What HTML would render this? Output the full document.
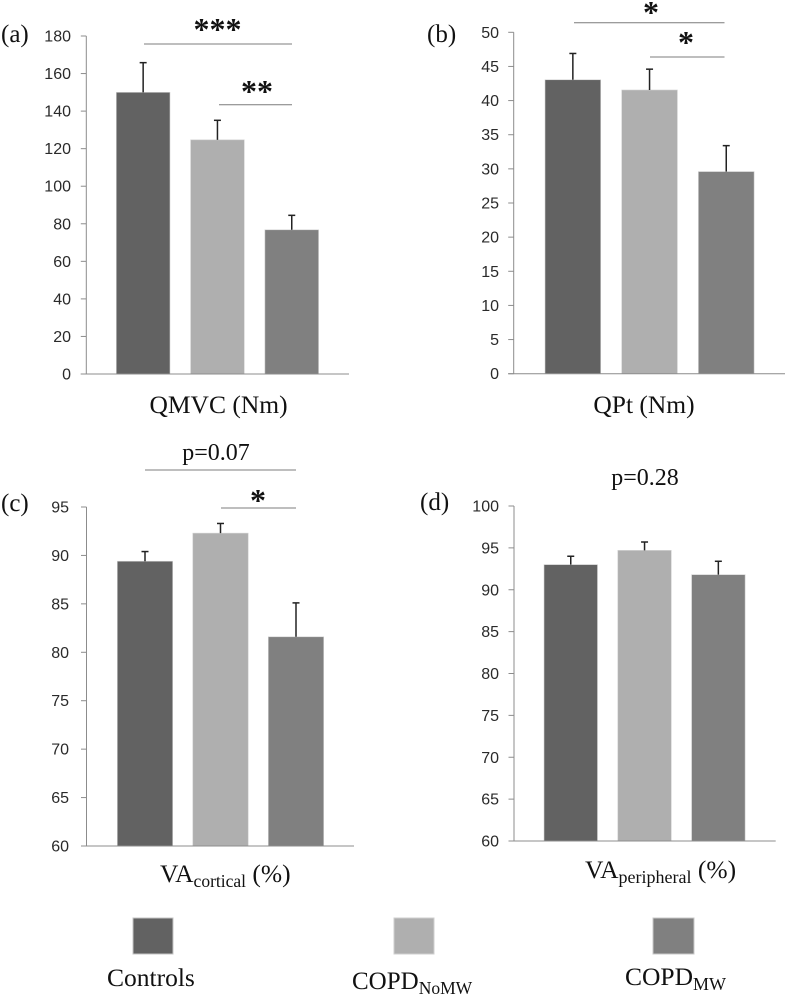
<!DOCTYPE html>
<html lang="en">
<head>
<meta charset="utf-8">
<title>Quadriceps strength and voluntary activation by group</title>
<style>
  html, body { margin: 0; padding: 0; background: #ffffff; }
  body { width: 787px; height: 996px; overflow: hidden; }
  svg { display: block; filter: blur(0.35px); }
  .tick { font-family: "Liberation Sans", sans-serif; font-size: 16px; fill: #2a2a2a; }
  .serif { font-family: "Liberation Serif", serif; fill: #111111; }
  .star { font-family: "Liberation Serif", serif; font-weight: bold; fill: #111111; }
</style>
</head>
<body>
<svg id="figure" xmlns="http://www.w3.org/2000/svg" width="787" height="996" viewBox="0 0 787 996">
  <g>
    <rect x="133" y="918" width="40" height="36" fill="#626262" stroke="#c4c4c4" stroke-width="1"/>
    <rect x="394" y="918" width="40" height="36" fill="#afafaf" stroke="#cfcfcf" stroke-width="1"/>
    <rect x="653" y="918" width="41" height="36" fill="#808080" stroke="#c8c8c8" stroke-width="1"/>
    <text class="serif" x="107" y="986" font-size="25.500">Controls</text>
    <text class="serif" x="352" y="989" font-size="25">COPD<tspan font-size="17.500" dy="5">NoMW</tspan></text>
    <text class="serif" x="625" y="985" font-size="25.500">COPD<tspan font-size="18" dy="5">MW</tspan></text>
  </g>

  <g>
    <text class="serif" x="1" y="42" font-size="25">(a)</text>
    <text class="serif" x="427" y="42" font-size="25">(b)</text>
    <text class="serif" x="1" y="511" font-size="25">(c)</text>
    <text class="serif" x="420" y="510" font-size="25">(d)</text>
  </g>

  <g>
    <text class="serif" x="218.500" y="413" font-size="25.500" text-anchor="middle">QMVC (Nm)</text>
    <text class="serif" x="644" y="413" font-size="25.500" text-anchor="middle">QPt (Nm)</text>
    <text class="serif" x="160" y="882" font-size="25.500">VA<tspan font-size="17.500" dy="5">cortical</tspan><tspan dy="-5"> (%)</tspan></text>
    <text class="serif" x="585" y="878" font-size="25.500">VA<tspan font-size="18" dy="5">peripheral</tspan><tspan dy="-5"> (%)</tspan></text>
  </g>

  <g>
    <line x1="144" y1="44" x2="292" y2="44" stroke="#7c7c7c" stroke-width="1"/>
    <line x1="219" y1="104.7" x2="292" y2="104.7" stroke="#7c7c7c" stroke-width="1"/>
    <text class="star" x="217.500" y="40" font-size="32" text-anchor="middle">***</text>
    <text class="star" x="257" y="102" font-size="32" text-anchor="middle">**</text>

    <line x1="574" y1="22.700" x2="724.500" y2="22.700" stroke="#7c7c7c" stroke-width="1"/>
    <line x1="650" y1="57" x2="724.500" y2="57" stroke="#7c7c7c" stroke-width="1"/>
    <text class="star" x="651" y="23" font-size="32" text-anchor="middle">*</text>
    <text class="star" x="686" y="53" font-size="32" text-anchor="middle">*</text>

    <line x1="145" y1="470" x2="296" y2="470" stroke="#7c7c7c" stroke-width="1"/>
    <line x1="221" y1="508" x2="296" y2="508" stroke="#7c7c7c" stroke-width="1"/>
    <text class="serif" x="216" y="460" font-size="24" text-anchor="middle">p=0.07</text>
    <text class="star" x="258" y="511" font-size="32" text-anchor="middle">*</text>

    <text class="serif" x="645" y="485" font-size="24" text-anchor="middle">p=0.28</text>
  </g>

  <g id="charts"></g>
</svg>

<script>
const groupNames = ['Controls', 'COPD NoMW', 'COPD MW'];
const groupColors = ['#626262', '#afafaf', '#808080'];

const qmvcValues = [150, 124.7, 76.8];
const qmvcErrors = [15.8, 10.4, 7.7];
const qmvcTicks = [0, 20, 40, 60, 80, 100, 120, 140, 160, 180];

const qptValues = [43.05, 41.55, 29.6];
const qptErrors = [3.85, 3.05, 3.8];
const qptTicks = [0, 5, 10, 15, 20, 25, 30, 35, 40, 45, 50];

const vaCorticalValues = [89.4, 92.3, 81.6];
const vaCorticalErrors = [1.0, 1.0, 3.5];
const vaCorticalTicks = [60, 65, 70, 75, 80, 85, 90, 95];

const vaPeripheralValues = [93.0, 94.7, 91.8];
const vaPeripheralErrors = [1.0, 1.0, 1.6];
const vaPeripheralTicks = [60, 65, 70, 75, 80, 85, 90, 95, 100];

const SVG_NS = 'http://www.w3.org/2000/svg';

function make(tag, attrs, parent) {
  const el = document.createElementNS(SVG_NS, tag);
  Object.keys(attrs).forEach(function (k) { el.setAttribute(k, attrs[k]); });
  parent.appendChild(el);
  return el;
}

function drawPanel(id, values, errors, ticks, g) {
  const root = document.getElementById('charts');
  const panel = make('g', {}, root);
  
  

  const yMin = ticks[0];
  const yMax = ticks[ticks.length - 1];
  const yScale = function (v) { return g.bottom - (v - yMin) / (yMax - yMin) * (g.bottom - g.top); };
  const xScale = function (i) { return g.firstBar + i * g.step; };

  values.forEach(function (v, i) {
    const yTop = yScale(v);
    const yErr = yScale(v + errors[i]);
    const cx = xScale(i) + g.barWidth / 2;

    const bar = make('rect', { x: xScale(i), y: yTop, width: g.barWidth, height: g.bottom - yTop, fill: groupColors[i], stroke: '#d2d2d2', 'stroke-width': 0.6 }, panel);
    
    

    const stem = make('line', { x1: cx, y1: yTop, x2: cx, y2: yErr, stroke: '#222222', 'stroke-width': 1.5 }, panel);
    
    

    const cap = make('line', { x1: cx - 3.5, y1: yErr, x2: cx + 3.5, y2: yErr, stroke: '#222222', 'stroke-width': 1.5 }, panel);
    
    
  });

  const yAxis = make('line', { x1: g.axisX, y1: g.top, x2: g.axisX, y2: g.bottom, stroke: '#8c8c8c', 'stroke-width': 1 }, panel);
  
  

  const xAxis = make('line', { x1: g.axisX - 5.5, y1: g.bottom, x2: g.axisEnd, y2: g.bottom, stroke: '#8c8c8c', 'stroke-width': 1 }, panel);
  
  

  ticks.forEach(function (t) {
    const y = yScale(t);
    const mark = make('line', { x1: g.axisX - 5.5, y1: y, x2: g.axisX, y2: y, stroke: '#8c8c8c', 'stroke-width': 1 }, panel);
    
    

    const label = make('text', { x: g.labelX, y: y + 5.5, 'text-anchor': 'end', class: 'tick' }, panel);
    label.textContent = String(t);
    
    
  });
}

drawPanel('a', qmvcValues, qmvcErrors, qmvcTicks, { axisX: 86.3, axisEnd: 349, top: 36, bottom: 374, firstBar: 116.3, step: 74.3, barWidth: 53.7, labelX: 71 });
drawPanel('b', qptValues, qptErrors, qptTicks, { axisX: 513.7, axisEnd: 785, top: 32.3, bottom: 373.7, firstBar: 545, step: 76.7, barWidth: 55.7, labelX: 499 });
drawPanel('c', vaCorticalValues, vaCorticalErrors, vaCorticalTicks, { axisX: 86.5, axisEnd: 354, top: 507, bottom: 846, firstBar: 117.3, step: 75.5, barWidth: 55.4, labelX: 69 });
drawPanel('d', vaPeripheralValues, vaPeripheralErrors, vaPeripheralTicks, { axisX: 514, axisEnd: 775.7, top: 506, bottom: 841, firstBar: 544, step: 73.8, barWidth: 53.5, labelX: 499 });
</script>
</body>
</html>
